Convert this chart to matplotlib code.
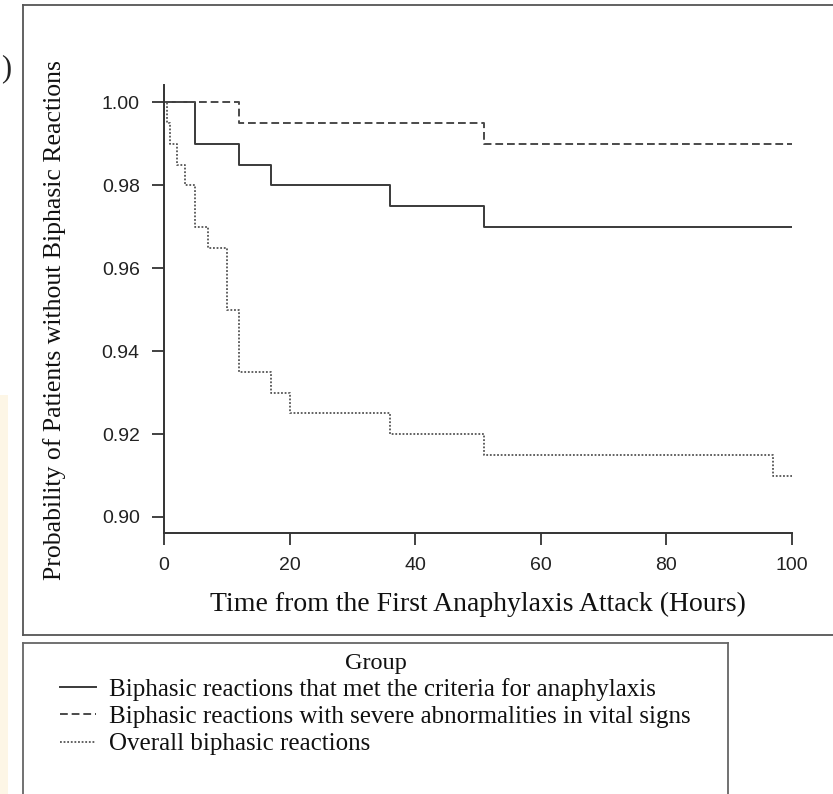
import numpy as np
import matplotlib
matplotlib.use('Agg')
import matplotlib.pyplot as plt
from matplotlib.patches import Rectangle
from matplotlib.lines import Line2D

# datos (Kaplan-Meier, escalones)
t_crit = [0, 5, 12, 17, 36, 51, 100]
s_crit = [1.0, 0.99, 0.985, 0.98, 0.975, 0.97, 0.97]

t_sev = [0, 12, 51, 100]
s_sev = [1.0, 0.995, 0.99, 0.99]

t_all = [0, 0.55, 0.93, 2.0, 3.4, 5.0, 7.0, 10.0, 12.0, 17.0, 20.0, 36.0, 51.0, 97.0, 100]
s_all = [1.0, 0.995, 0.99, 0.985, 0.98, 0.97, 0.965, 0.95, 0.935, 0.93, 0.925, 0.92,
         0.915, 0.91, 0.91]

labels = ['Biphasic reactions that met the criteria for anaphylaxis',
          'Biphasic reactions with severe abnormalities in vital signs',
          'Overall biphasic reactions']
xticks = [0, 20, 40, 60, 80, 100]
yticks = [0.90, 0.92, 0.94, 0.96, 0.98, 1.00]

W, H = 833, 794
serif = ['Liberation Serif', 'DejaVu Serif']
sans = ['Liberation Sans', 'DejaVu Sans']


def fx(px):
    return px / W


def fy(py):
    return 1 - py / H


fig = plt.figure(figsize=(W / 100, H / 100), dpi=100)

# franja crema a la izquierda y marcos
fig.patches.append(Rectangle((0, 0), fx(8), fy(395), transform=fig.transFigure,
                             facecolor='#fdf6e6', edgecolor='none', zorder=0))
box_c = '#555555'
fig.add_artist(Line2D([fx(23), fx(23)], [fy(5), fy(635)], color=box_c, lw=1.3))
fig.add_artist(Line2D([fx(23), 1.0], [fy(5), fy(5)], color=box_c, lw=1.3))
fig.add_artist(Line2D([fx(23), 1.0], [fy(635), fy(635)], color=box_c, lw=1.3))
fig.add_artist(Line2D([fx(23), fx(23)], [fy(643), 0], color='#666666', lw=1.3))
fig.add_artist(Line2D([fx(23), fx(728)], [fy(643), fy(643)], color='#666666', lw=1.3))
fig.add_artist(Line2D([fx(728), fx(728)], [fy(643), 0], color='#666666', lw=1.3))

fig.text(fx(1), fy(69), ')', ha='left', va='center', fontsize=22, family=serif,
         color='#222222')

ax = fig.add_axes([fx(164), fy(533), fx(791.7) - fx(164), fy(85) - fy(533)])
l1, = ax.step(t_crit, s_crit, where='post', color='#3a3a3a', lw=1.4)
l2, = ax.step(t_sev, s_sev, where='post', color='#4a4a4a', lw=1.4,
              linestyle=(0, (4, 2)))
l3, = ax.step(t_all, s_all, where='post', color='#555555', lw=1.3,
              linestyle=(0, (1, 1)))

ax.set_xlim(0, 100)
ax.set_ylim(0.89614, 1.00422)
ax.set_xticks(xticks)
ax.set_xticklabels([str(v) for v in xticks])
ax.set_yticks(yticks)
ax.set_yticklabels(['%.2f' % v for v in yticks])
for s in ['top', 'right']:
    ax.spines[s].set_visible(False)
for s in ['left', 'bottom']:
    ax.spines[s].set_linewidth(1.4)
    ax.spines[s].set_color('#333333')
ax.tick_params(direction='out', length=8.5, width=1.3, color='#333333',
               labelsize=14, labelcolor='#222222', pad=9)
for t in ax.get_xticklabels() + ax.get_yticklabels():
    t.set_family(sans)

fig.text(fx(478), fy(604), 'Time from the First Anaphylaxis Attack (Hours)',
         ha='center', va='center', fontsize=20, family=serif, color='#111111')
fig.text(fx(55), fy(320), 'Probability of Patients without Biphasic Reactions',
         ha='center', va='center', rotation=90, fontsize=18.5, family=serif,
         color='#111111')

# leyenda
fig.text(fx(376), fy(663), 'Group', ha='center', va='center', fontsize=17.5,
         family=serif, color='#111111')
leg = fig.legend([l1, l2, l3], labels, loc='upper left',
                 bbox_to_anchor=(fx(60), fy(678)), frameon=False,
                 prop={'family': serif, 'size': 18}, handlelength=1.45,
                 handletextpad=0.5, labelspacing=0.19, borderaxespad=0,
                 borderpad=0)
for t in leg.get_texts():
    t.set_color('#111111')

fig.savefig('out.png', dpi=100)
